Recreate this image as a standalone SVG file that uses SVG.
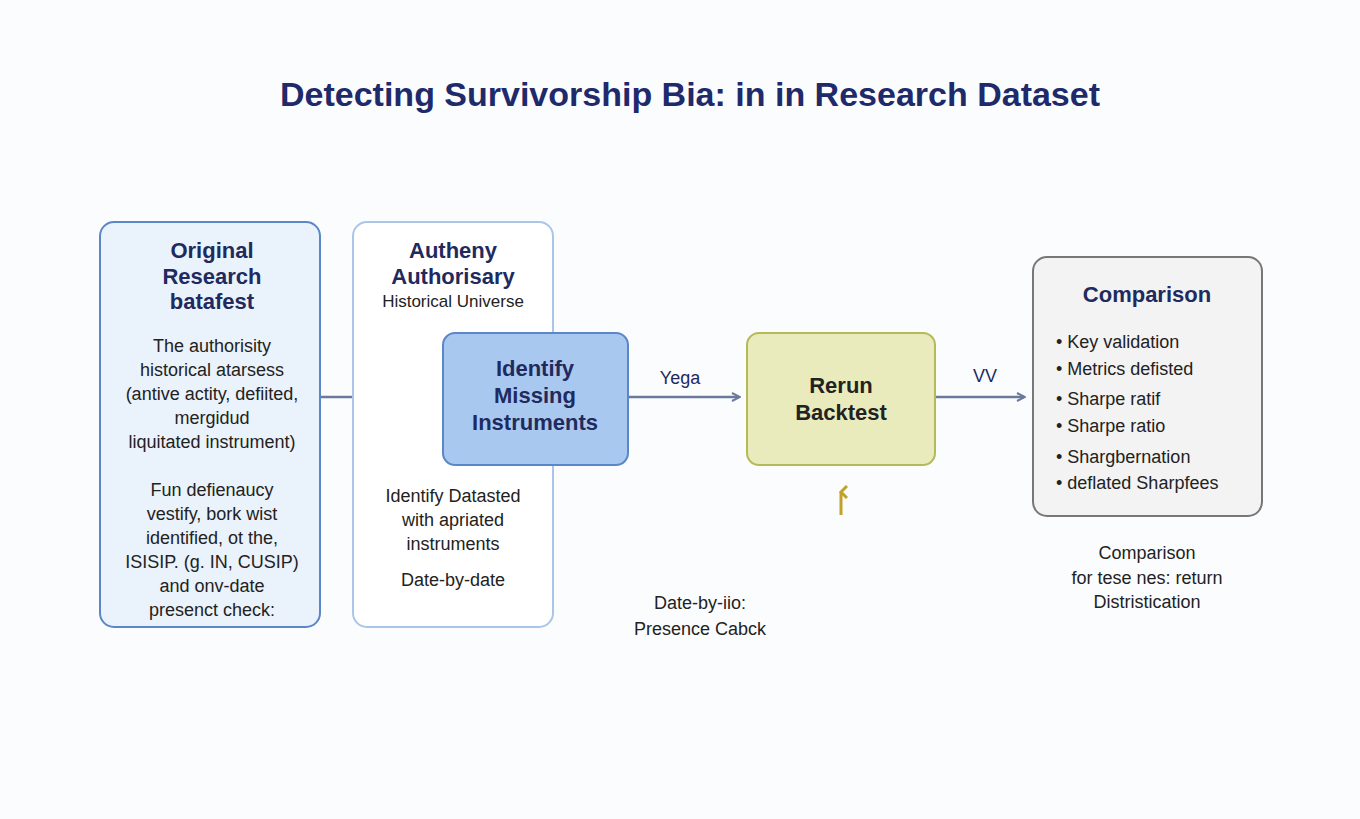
<svg xmlns="http://www.w3.org/2000/svg" width="1360" height="819" viewBox="0 0 1360 819">
<defs>
<marker id="ah" markerWidth="10" markerHeight="10" refX="8" refY="5" orient="auto" markerUnits="userSpaceOnUse"><path d="M1,1 L9,5 L1,9" fill="none" stroke="#6b7a9c" stroke-width="2"/></marker>
<marker id="gh" markerWidth="14" markerHeight="14" refX="7" refY="7" orient="auto" markerUnits="userSpaceOnUse"><path d="M1,13 L7,7 L13,13" fill="none" stroke="#c2a12a" stroke-width="3"/></marker>
</defs>
<style>
text{font-family:"Liberation Sans",Arial,sans-serif;fill:#222;text-anchor:middle}
.h{font-weight:bold;fill:#1f2a5e;font-size:22px}
.b{font-size:18px}
.s{font-size:17px}
.l{font-size:18px;fill:#1f2a5e}
.c{stroke:#6b7a9c;stroke-width:2.5;fill:none;marker-end:url(#ah)}
</style>
<rect width="1360" height="819" fill="#fbfcfe"/>
<text x="690" y="106" style="font-size:34px;font-weight:bold;fill:#1f2a6b">Detecting Survivorship Bia: in in Research Dataset</text>
<g id="connectors">
<line class="c" x1="321" y1="397" x2="436" y2="397"/>
<line class="c" x1="629" y1="397" x2="739" y2="397"/>
<line class="c" x1="936" y1="397" x2="1024" y2="397"/>
<line x1="841" y1="515" x2="841" y2="492" stroke="#c2a12a" stroke-width="3" marker-end="url(#gh)"/>
<text class="l" x="388" y="384">Yega</text>
<text class="l" x="680" y="384">Yega</text>
<text class="l" x="985" y="382">VV</text>
</g>
<g id="original">
<rect x="100" y="222" width="220" height="405" rx="14" fill="#eaf2fb" stroke="#5b86c8" stroke-width="2"/>
<text class="h" x="212" y="258">Original</text>
<text class="h" x="212" y="284">Research</text>
<text class="h" x="212" y="309">batafest</text>
<text class="b" x="212" y="352">The authorisity</text>
<text class="b" x="212" y="376">historical atarsess</text>
<text class="b" x="212" y="400">(antive actity, defiited,</text>
<text class="b" x="212" y="424">mergidud</text>
<text class="b" x="212" y="448">liquitated instrument)</text>
<text class="b" x="212" y="496">Fun defienaucy</text>
<text class="b" x="212" y="520">vestify, bork wist</text>
<text class="b" x="212" y="544">identified, ot the,</text>
<text class="b" x="212" y="568">ISISIP. (g. IN, CUSIP)</text>
<text class="b" x="212" y="592">and onv-date</text>
<text class="b" x="212" y="616">presenct check:</text>
</g>
<g id="authority">
<rect x="353" y="222" width="200" height="405" rx="14" fill="#fff" stroke="#a9c6e8" stroke-width="2"/>
<text class="h" x="453" y="258">Autheny</text>
<text class="h" x="453" y="284">Authorisary</text>
<text class="s" x="453" y="307">Historical Universe</text>
<text class="b" x="453" y="502">Identify Datasted</text>
<text class="b" x="453" y="526">with apriated</text>
<text class="b" x="453" y="550">instruments</text>
<text class="b" x="453" y="586">Date-by-date</text>
</g>
<g id="identify">
<rect x="443" y="333" width="185" height="132" rx="12" fill="#a9c8ef" stroke="#5b86c8" stroke-width="2"/>
<text class="h" x="535" y="376">Identify</text>
<text class="h" x="535" y="403">Missing</text>
<text class="h" x="535" y="430">Instruments</text>
</g>
<g id="rerun">
<rect x="747" y="333" width="188" height="132" rx="12" fill="#e9ebbd" stroke="#b5ba58" stroke-width="2"/>
<text class="h" x="841" y="393" style="fill:#222">Rerun</text>
<text class="h" x="841" y="420" style="fill:#222">Backtest</text>
</g>
<g id="presence">
<text class="b" x="700" y="609">Date-by-iio:</text>
<text class="b" x="700" y="635">Presence Cabck</text>
</g>
<g id="comparison">
<rect x="1033" y="257" width="229" height="259" rx="14" fill="#f3f3f3" stroke="#777" stroke-width="2"/>
<text class="h" x="1147" y="302">Comparison</text>
<g style="text-anchor:start">
<text class="b" x="1056" y="348" style="text-anchor:start">•  Key validation</text>
<text class="b" x="1056" y="375" style="text-anchor:start">•  Metrics defisted</text>
<text class="b" x="1056" y="405" style="text-anchor:start">•  Sharpe ratif</text>
<text class="b" x="1056" y="432" style="text-anchor:start">•  Sharpe ratio</text>
<text class="b" x="1056" y="463" style="text-anchor:start">•  Shargbernation</text>
<text class="b" x="1056" y="489" style="text-anchor:start">•  deflated Sharpfees</text>
</g>
</g>
<g id="note">
<text class="b" x="1147" y="559">Comparison</text>
<text class="b" x="1147" y="584">for tese nes: return</text>
<text class="b" x="1147" y="608">Distristication</text>
</g>
</svg>
